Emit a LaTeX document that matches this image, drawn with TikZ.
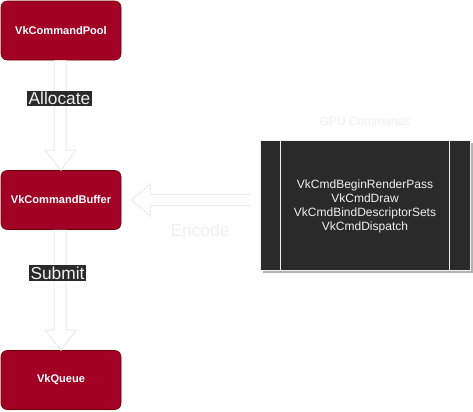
\documentclass[tikz,border=0pt]{standalone}
\usepackage{fontspec}
\setmainfont{Liberation Sans}
\usetikzlibrary{calc}
\definecolor{vkred}{HTML}{A20025}
\definecolor{vkredline}{HTML}{6F0000}
\definecolor{darkbg}{HTML}{2A2A2A}
\definecolor{lightfg}{HTML}{F0F0F0}
\definecolor{arrowline}{HTML}{EBEBEB}
\definecolor{shadowc}{HTML}{B3B3B3}
\begin{document}
\begin{tikzpicture}[x=0.75pt,y=-0.75pt,
  vknode/.style={draw=vkredline, fill=vkred, rounded corners=4.5pt, minimum width=90pt, minimum height=44.25pt, inner sep=0pt, text=white, font=\fontsize{8.3pt}{9.5pt}\selectfont\bfseries},
  darklabel/.style={fill=darkbg, text=lightfg, inner xsep=1.2pt, inner ysep=1pt, font=\fontsize{13pt}{15pt}\selectfont},
  blockarrow/.style={draw=arrowline, fill=white, line width=0.75pt, line join=miter}]
\useasboundingbox (0,0) rectangle (473,411);
\node[vknode] (pool) at (61,30.5) {VkCommandPool};
\node[vknode] (buffer) at (61,200) {VkCommandBuffer};
\node[vknode] (queue) at (61,380) {VkQueue};
% GPU commands box
\fill[shadowc] (263,143) rectangle (473,273);
\node[draw=lightfg, fill=darkbg, line width=0.75pt, minimum width=157.5pt, minimum height=97.5pt, inner sep=0pt] (box) at (365,205) {};
\draw[lightfg, line width=0.75pt] ($(box.north west)+(21,0)$) -- ($(box.south west)+(21,0)$);
\draw[lightfg, line width=0.75pt] ($(box.north east)+(-21,0)$) -- ($(box.south east)+(-21,0)$);
\node[text=lightfg, align=center, font=\fontsize{9pt}{10.5pt}\selectfont] (cmds) at (365,206) {VkCmdBeginRenderPass\\VkCmdDraw\\VkCmdBindDescriptorSets\\VkCmdDispatch};
\node[text=lightfg, font=\fontsize{9pt}{10.5pt}\selectfont] (title) at (365,121) {GPU Commands};
% Allocate arrow
\draw[blockarrow] ($(pool.south)+(-7,0)$) -- ($(buffer.north)+(-7,-20)$) -- ($(buffer.north)+(-16,-20)$) -- (buffer.north) -- ($(buffer.north)+(15,-20)$) -- ($(buffer.north)+(5,-20)$) -- ($(pool.south)+(5,0)$);
% Submit arrow
\draw[blockarrow] ($(buffer.south)+(-7,0)$) -- ($(queue.north)+(-7,-20)$) -- ($(queue.north)+(-16,-20)$) -- (queue.north) -- ($(queue.north)+(15,-20)$) -- ($(queue.north)+(5,-20)$) -- ($(buffer.south)+(5,0)$);
% Encode arrow
\coordinate (tail) at ($(box.west)+(-10,-5)$);
\draw[blockarrow] ($(tail)+(0,-5.5)$) -- ($(buffer.east)+(29,-5.5)$) -- ($(buffer.east)+(29,-16)$) -- ($(buffer.east)+(10,0)$) -- ($(buffer.east)+(29,16)$) -- ($(buffer.east)+(29,5.5)$) -- ($(tail)+(0,5.5)$);
\node[darklabel] (alloc) at (59.5,98.5) {Allocate};
\node[darklabel] (submit) at (57.5,273) {Submit};
\node[text=lightfg, font=\fontsize{13pt}{15pt}\selectfont] (encode) at (200,230) {Encode};
\end{tikzpicture}
\end{document}
